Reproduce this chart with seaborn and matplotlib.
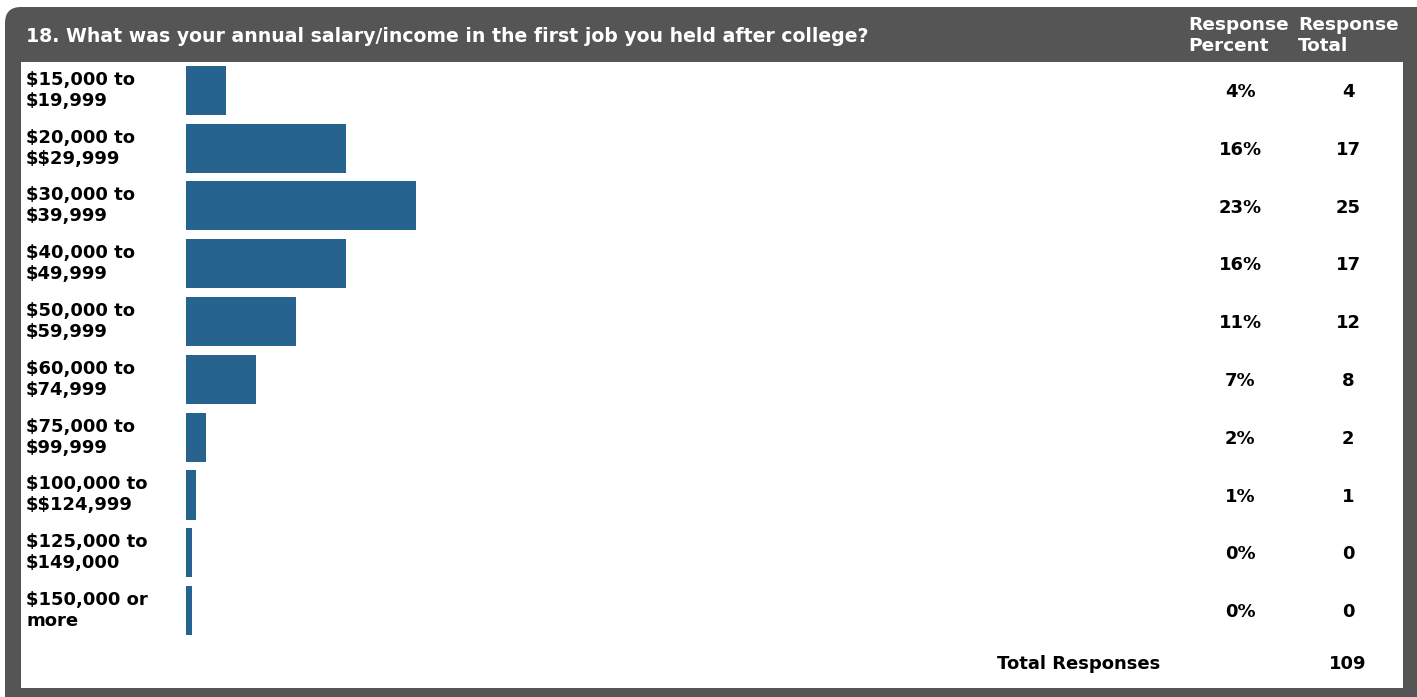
import seaborn as sns
import matplotlib.pyplot as plt
import pandas as pd
import numpy as np
from matplotlib.patches import FancyBboxPatch

TITLE = "18. What was your annual salary/income in the first job you held after college?"
categories = ["$15,000 to\n$19,999", "$20,000 to\n$$29,999", "$30,000 to\n$39,999",
              "$40,000 to\n$49,999", "$50,000 to\n$59,999", "$60,000 to\n$74,999",
              "$75,000 to\n$99,999", "$100,000 to\n$$124,999", "$125,000 to\n$149,000",
              "$150,000 or\nmore"]
percent = [4, 16, 23, 16, 11, 7, 2, 1, 0, 0]
totals = [4, 17, 25, 17, 12, 8, 2, 1, 0, 0]
total_responses = 109

FRAME = "#555555"
BAR = "#26648f"
BODY = 13

plt.rcParams["text.parse_math"] = False
sns.set_style("white")
plt.rcParams["font.family"] = ["DejaVu Sans"]
plt.rcParams["font.weight"] = "bold"

W, H = 1417, 697
fig = plt.figure(figsize=(W / 100, H / 100), dpi=100)

# background frame (pixel coordinates)
bg = fig.add_axes([0, 0, 1, 1])
bg.set_xlim(0, W)
bg.set_ylim(H, 0)
bg.axis("off")
bg.add_patch(FancyBboxPatch((5 + 16, 7 + 16), W + 40, H - 7 - 16 + 10,
                            boxstyle="round,pad=16", fc=FRAME, ec="none"))
bg.text(26, 37, TITLE, color="white", fontsize=13.6, fontweight="bold",
        va="center", ha="left")
for x0, l1, l2 in [(1188, "Response", "Percent"), (1298, "Response", "Total")]:
    bg.text(x0, 25, l1, color="white", fontsize=13.3, fontweight="bold", va="center")
    bg.text(x0, 46, l2, color="white", fontsize=13.3, fontweight="bold", va="center")

# white panel with bars
left, right, top, bottom = 21, 1403, 62, 688
ax = fig.add_axes([left / W, (H - bottom) / H, (right - left) / W, (bottom - top) / H])
ax.set_facecolor("white")

df = pd.DataFrame({"label": categories, "percent": percent, "total": totals})
df["shown"] = np.maximum(df["percent"], 0.6)
sns.barplot(data=df, x="shown", y="label", orient="h", color=BAR, width=0.85,
            saturation=1, linewidth=0, ax=ax)

ax.set_xlim(-(186 - left) / 10.0, (right - 186) / 10.0)
ax.set_ylim(10.34, -0.49)
ax.set_xticks([])
ax.set_yticks([])
ax.set_xlabel("")
ax.set_ylabel("")
for s in ax.spines.values():
    s.set_visible(False)

tr = ax.get_yaxis_transform()
def fx(p):
    return (p - left) / (right - left)

for i, row in df.iterrows():
    ax.text(fx(26), i, row["label"], transform=tr, fontsize=BODY, color="black",
            va="center", ha="left", linespacing=1.22)
    ax.text(fx(1240), i + 0.03, f"{row['percent']}%", transform=tr, fontsize=BODY,
            color="black", va="center", ha="center")
    ax.text(fx(1348), i + 0.03, str(row["total"]), transform=tr, fontsize=BODY,
            color="black", va="center", ha="center")

ax.text(fx(1079), 9.93, "Total Responses", transform=tr, fontsize=BODY,
        color="black", va="center", ha="center")
ax.text(fx(1348), 9.93, str(total_responses), transform=tr, fontsize=BODY,
        color="black", va="center", ha="center")

fig.savefig("out.png", dpi=100)
